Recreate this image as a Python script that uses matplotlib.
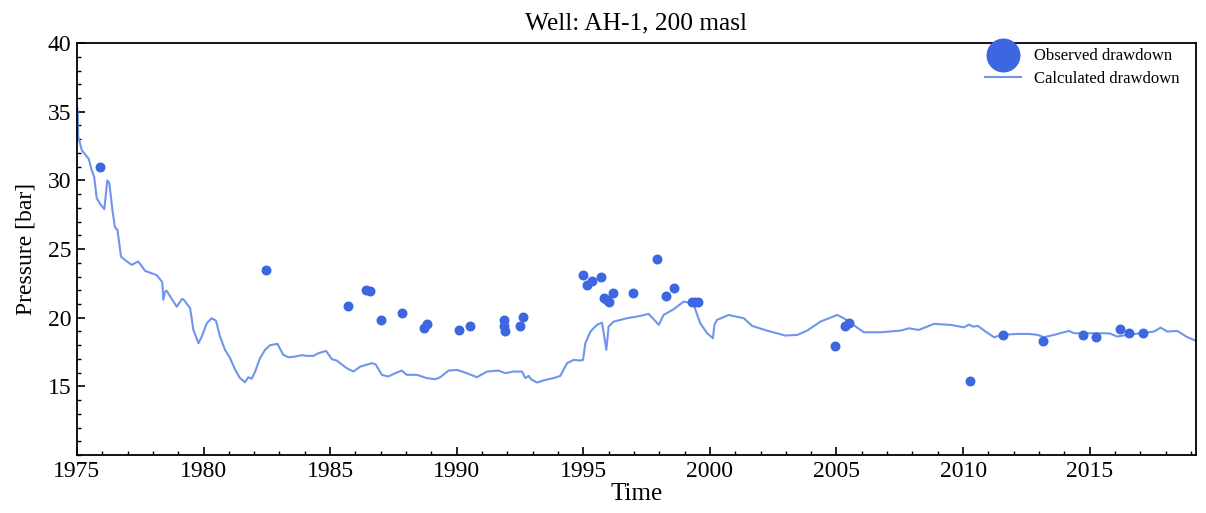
import matplotlib
matplotlib.use("Agg")
import matplotlib.pyplot as plt
from matplotlib.ticker import MultipleLocator

plt.rcParams['font.family'] = ['Liberation Serif', 'DejaVu Serif']

# Observed drawdown (year, bar)
obs_year = [1975.9, 1982.47, 1985.71, 1986.42, 1986.58, 1987.02, 1987.85, 1988.7, 1988.83,
            1990.1, 1990.53, 1991.85, 1991.88, 1991.9, 1992.5, 1992.63,
            1995.0, 1995.16, 1995.36, 1995.71, 1995.83, 1995.95, 1996.03, 1996.19, 1996.98,
            1997.92, 1998.28, 1998.6, 1999.3, 1999.43, 1999.55,
            2004.96, 2005.32, 2005.5, 2010.26, 2011.56, 2013.14, 2014.72, 2015.24,
            2016.19, 2016.54, 2017.1]
obs_val = [31.0, 23.48, 20.86, 22.02, 21.95, 19.84, 20.35, 19.26, 19.55,
           19.1, 19.4, 19.8, 19.4, 19.0, 19.4, 20.06,
           23.1, 22.4, 22.7, 23.0, 21.45, 21.3, 21.15, 21.8, 21.8,
           24.28, 21.6, 22.17, 21.15, 21.15, 21.15,
           17.95, 19.4, 19.62, 15.4, 18.75, 18.3, 18.75, 18.6,
           19.2, 18.9, 18.9]

# Calculated drawdown (year, bar)
calc_year = [1975.0, 1975.03, 1975.05, 1975.19, 1975.47, 1975.58, 1975.68, 1975.78, 1975.91,
             1976.08, 1976.2, 1976.28, 1976.4, 1976.5, 1976.6, 1976.74, 1976.9, 1977.16,
             1977.42, 1977.62, 1977.7, 1977.89, 1978.15, 1978.37, 1978.41, 1978.48, 1978.54,
             1978.94, 1979.14, 1979.2, 1979.47, 1979.6, 1979.8, 1979.93, 1980.13, 1980.32,
             1980.49, 1980.65, 1980.85, 1981.05, 1981.25, 1981.44, 1981.64, 1981.77, 1981.9,
             1982.04, 1982.23, 1982.43, 1982.63, 1982.92, 1983.15, 1983.35, 1983.62, 1983.88,
             1984.08, 1984.34, 1984.54, 1984.84, 1985.07, 1985.26, 1985.66, 1985.92, 1986.19,
             1986.65, 1986.8, 1987.04, 1987.3, 1987.57, 1987.83, 1988.03, 1988.43, 1988.82,
             1989.15, 1989.35, 1989.68, 1990.01, 1990.34, 1990.8, 1991.2, 1991.65, 1991.92,
             1992.24, 1992.58, 1992.71, 1992.84, 1992.95, 1993.17, 1993.5, 1993.83, 1994.09,
             1994.36, 1994.62, 1994.88, 1994.99, 1995.08, 1995.28, 1995.54, 1995.74, 1995.91,
             1996.0, 1996.2, 1996.72, 1997.25, 1997.58, 1997.78, 1997.98, 1998.17, 1998.57,
             1998.96, 1999.16, 1999.36, 1999.43, 1999.62, 1999.89, 2000.12, 2000.18, 2000.28,
             2000.74, 2001.34, 2001.67, 2002.26, 2002.98, 2003.45, 2003.84, 2004.37, 2005.03,
             2005.29, 2006.08, 2006.74, 2007.53, 2007.86, 2008.25, 2008.85, 2009.51, 2010.03,
             2010.23, 2010.4, 2010.59, 2010.89, 2011.22, 2011.55, 2012.14, 2012.6, 2012.95,
             2013.19, 2013.59, 2014.18, 2014.38, 2014.84, 2015.17, 2015.56, 2015.8, 2016.09,
             2016.49, 2017.02, 2017.54, 2017.8, 2018.07, 2018.46, 2018.86, 2019.19]
calc_val = [35.4, 35.1, 33.2, 32.2, 31.55, 30.75, 30.27, 28.7, 28.3,
            27.9, 30.0, 29.8, 27.85, 26.6, 26.4, 24.45, 24.2, 23.85,
            24.1, 23.6, 23.4, 23.28, 23.1, 22.6, 21.3, 21.9, 21.97,
            20.8, 21.35, 21.35, 20.7, 19.1, 18.14, 18.63, 19.6, 19.96,
            19.79, 18.63, 17.66, 17.05, 16.2, 15.6, 15.3, 15.67, 15.55,
            16.08, 17.05, 17.66, 18.0, 18.1, 17.3, 17.12, 17.17, 17.27,
            17.22, 17.22, 17.42, 17.58, 16.98, 16.88, 16.32, 16.08, 16.44,
            16.69, 16.6, 15.84, 15.72, 15.96, 16.15, 15.84, 15.84, 15.6,
            15.52, 15.67, 16.15, 16.2, 16.0, 15.67, 16.08, 16.15, 15.96,
            16.08, 16.08, 15.6, 15.76, 15.5, 15.28, 15.47, 15.6, 15.76,
            16.69, 16.93, 16.88, 16.93, 18.14, 18.99, 19.48, 19.64, 17.66,
            19.35, 19.72, 19.96, 20.13, 20.28, 19.89, 19.48, 20.2, 20.62,
            21.17, 21.1, 21.0, 20.57, 19.6, 18.87, 18.51, 19.48, 19.84,
            20.2, 19.96, 19.4, 19.06, 18.7, 18.75, 19.06, 19.72, 20.2,
            19.96, 18.94, 18.94, 19.06, 19.23, 19.11, 19.55, 19.48, 19.3,
            19.5, 19.35, 19.4, 18.99, 18.58, 18.75, 18.82, 18.82, 18.75,
            18.58, 18.75, 19.04, 18.87, 18.87, 18.87, 18.87, 18.85, 18.63,
            18.75, 18.87, 18.99, 19.28, 18.99, 19.04, 18.58, 18.33]

fig = plt.figure(figsize=(12.06, 5.13), dpi=100)
ax = fig.add_axes([0.0638, 0.113, 0.9279, 0.803])

ax.scatter(obs_year, obs_val, s=38, color='#3d67e0', zorder=3, label='Observed drawdown')
ax.plot(calc_year, calc_val, color='#6f95ec', lw=1.5, zorder=2, label='Calculated drawdown')

ax.set_xlim(1975, 2019.2)
ax.set_ylim(10, 40)
ax.xaxis.set_major_locator(MultipleLocator(5))
ax.xaxis.set_minor_locator(MultipleLocator(1))
ax.yaxis.set_minor_locator(MultipleLocator(1))
ax.set_yticks([15, 20, 25, 30, 35, 40])
ax.tick_params(which='both', direction='in', top=False, right=False, labelsize=17)
ax.tick_params(which='major', length=6, width=1.2, pad=4)
ax.tick_params(which='minor', length=3, width=1)
for s in ax.spines.values():
    s.set_linewidth(1.3)

ax.set_xlabel('Time', fontsize=18, labelpad=1)
ax.set_ylabel('Pressure [bar]', fontsize=17, labelpad=8)
ax.set_title('Well: AH-1, 200 masl', fontsize=18.3, pad=10)

ax.legend(loc='upper right', frameon=False, fontsize=12, markerscale=3.8,
          handlelength=2.15, handletextpad=0.75, borderaxespad=0.2, labelspacing=0.45,
          bbox_to_anchor=(0.994, 1.013))

fig.savefig('out.png', dpi=100)
